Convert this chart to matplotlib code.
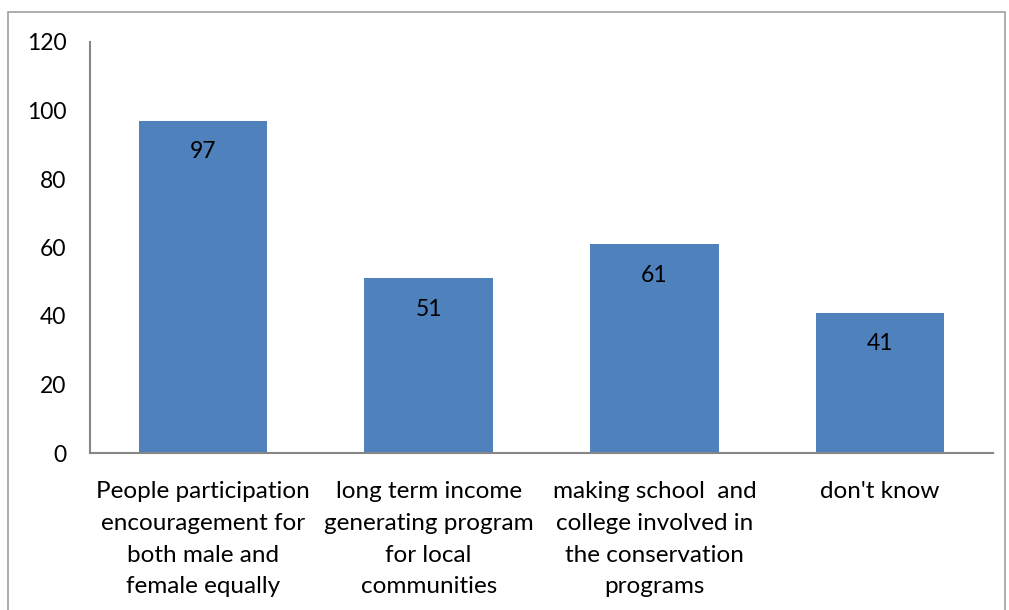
import matplotlib
matplotlib.use('Agg')
import matplotlib.pyplot as plt
from matplotlib.patches import Rectangle

categories = ['People participation\nencouragement for\nboth male and\nfemale equally',
              'long term income\ngenerating program\nfor local\ncommunities',
              'making school  and\ncollege involved in\nthe conservation\nprograms',
              "don't know"]
values = [97, 51, 61, 41]
yticks = [0, 20, 40, 60, 80, 100, 120]

plt.rcParams['font.family'] = ['Lato', 'DejaVu Sans']

fig = plt.figure(figsize=(10.09, 6.10), dpi=100)
ax = fig.add_axes([90/1009, 157/610, 903/1009, 411/610])

x = range(len(categories))
bars = ax.bar(x, values, width=0.57, color='#4F81BD')
for b, v in zip(bars, values):
    ax.annotate(str(v), (b.get_x() + b.get_width()/2, v), xytext=(0, -31),
                textcoords='offset pixels', ha='center', va='center', fontsize=16.5)

ax.set_xlim(-0.5, len(categories) - 0.5)
ax.set_ylim(0, 120)
ax.set_yticks(yticks)
ax.set_yticklabels([str(t) for t in yticks], fontsize=16.5)
ax.set_xticks(list(x))
ax.set_xticklabels(categories, fontsize=17.5, linespacing=1.64, va='top')
ax.tick_params(length=0)
ax.tick_params(axis='y', pad=17)
ax.tick_params(axis='x', pad=20)

for s in ['top', 'right']:
    ax.spines[s].set_visible(False)
for s in ['left', 'bottom']:
    ax.spines[s].set_color('#868686')
    ax.spines[s].set_linewidth(1.5)

fig.patches.append(Rectangle((8/1009, -0.05), 997/1009, 1.05 - 12/610,
                             transform=fig.transFigure, fill=False,
                             edgecolor='#a0a0a0', linewidth=1.2))

fig.savefig('out.png', dpi=100)
